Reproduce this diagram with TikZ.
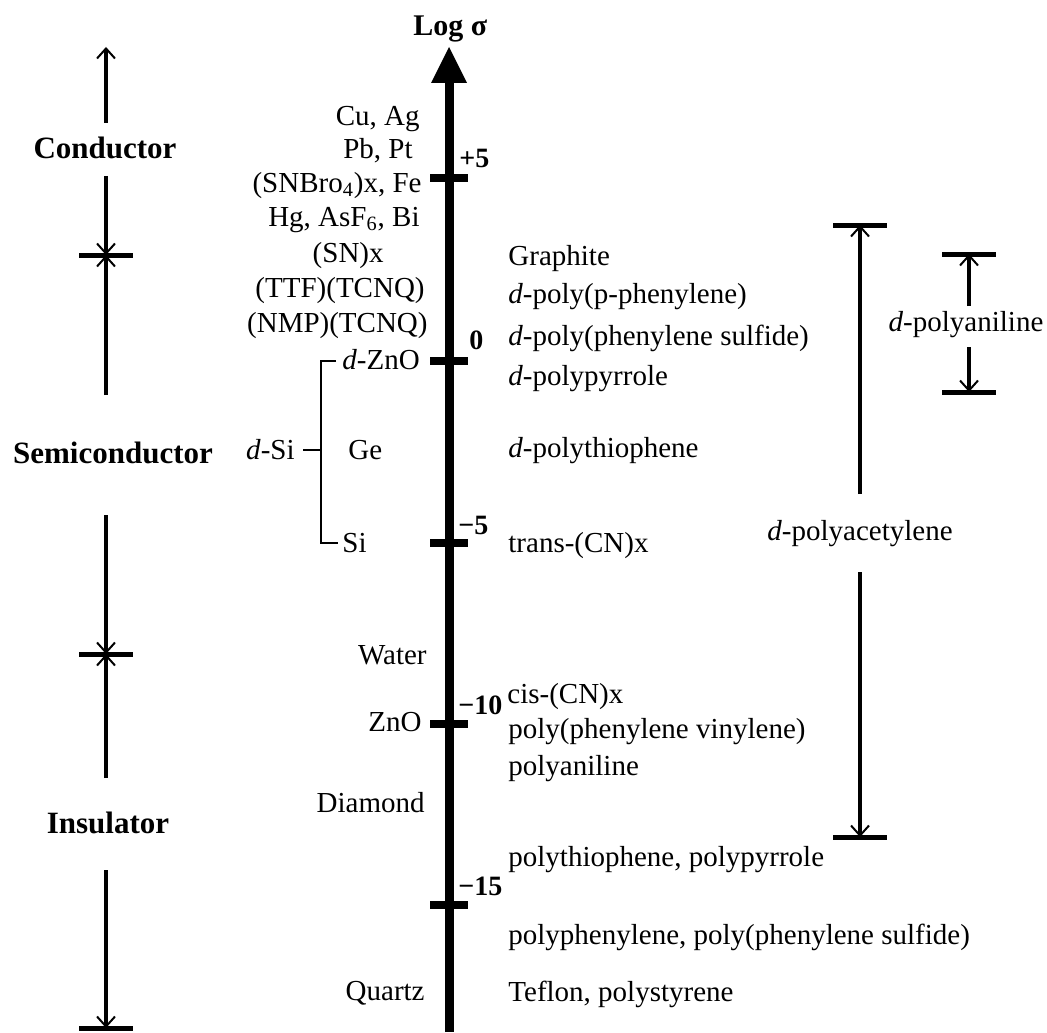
\documentclass[tikz,border=0pt]{standalone}
\usepackage{fontspec}
\setmainfont{Liberation Serif}
\usetikzlibrary{arrows.meta}
\begin{document}
\begin{tikzpicture}[x=0.5pt,y=-0.5pt,
  txt/.style={inner sep=0pt, font=\fontsize{14.5pt}{17pt}\selectfont},
  lbl/.style={inner sep=0pt, font=\fontsize{15.5pt}{18pt}\selectfont\bfseries},
  tlbl/.style={inner sep=0pt, font=\fontsize{14pt}{17pt}\selectfont\bfseries},
  rng/.style={line width=2.25pt, -{Straight Barb[length=5pt,width=9pt,line width=1pt]}},
  endbar/.style={line width=2.5pt},
  axtick/.style={line width=4pt},
  brk/.style={line width=1pt}]
\useasboundingbox (0,0) rectangle (1047,1032);

% ---- main axis ----
\coordinate (axbot) at (449,1032);
\coordinate (axtop) at (449,80);
\draw[line width=4.5pt] (axbot) -- (axtop);
\fill (431,83) -- (449,47) -- (467,83) -- cycle;
\node[tlbl, anchor=base west, font=\fontsize{15pt}{18pt}\selectfont\bfseries] (logs) at (413,36) {Log σ};

% ticks
\foreach \n/\y in {t5/178, t0/361, tm5/543, tm10/724, tm15/905}{
  \coordinate (\n) at (449,\y);
  \draw[axtick] ([xshift=-9.5pt]\n) -- ([xshift=9.5pt]\n);
}
\node[tlbl, anchor=base west] (l5) at (459,168) {+5};
\node[tlbl, anchor=base west] (l0) at (469,349) {0};
\node[tlbl, anchor=base west] (lm5) at (458,534) {−5};
\node[tlbl, anchor=base west] (lm10) at (458,714) {−10};
\node[tlbl, anchor=base west] (lm15) at (458,895) {−15};

% ---- left materials ----
\node[txt, anchor=base east] (cuag) at (420,126) {Cu, Ag};
\node[txt, anchor=base east] (pbpt) at (413,159) {Pb, Pt};
\node[txt, anchor=base east] (snbr) at (422,192) {(SNBro\textsubscript{4})x, Fe};
\node[txt, anchor=base east] (hg) at (420,226) {Hg, AsF\textsubscript{6}, Bi};
\node[txt, anchor=base east] (sn) at (384,262) {(SN)x};
\node[txt, anchor=base east] (ttf) at (425,297) {(TTF)(TCNQ)};
\node[txt, anchor=base east] (nmp) at (428,332) {(NMP)(TCNQ)};
\node[txt, anchor=base west] (dzno) at (342,369) {\textit{d}-ZnO};
\node[txt, anchor=base west] (ge) at (348,459) {Ge};
\node[txt, anchor=base west] (si) at (342,552) {Si};
\node[txt, anchor=base east] (dsi) at (295,459) {\textit{d}-Si};
\node[txt, anchor=base east] (water) at (427,664) {Water};
\node[txt, anchor=base east] (zno) at (422,731) {ZnO};
\node[txt, anchor=base east] (diam) at (425,812) {Diamond};
\node[txt, anchor=base east] (quartz) at (425,1000) {Quartz};

% bracket
\coordinate (brtop) at (336,361);
\coordinate (brbot) at (338,543);
\coordinate (brmid) at (321,450);
\coordinate (brleft) at (303,450);
\draw[brk] (brtop) -- (321,361) -- (321,543) -- (brbot);
\draw[brk] (brleft) -- (brmid);

% ---- right materials ----
\node[txt, anchor=base west] (graph) at (508,265) {Graphite};
\node[txt, anchor=base west] (dppp) at (508,303) {\textit{d}-poly(p-phenylene)};
\node[txt, anchor=base west] (dpps) at (508,345) {\textit{d}-poly(phenylene sulfide)};
\node[txt, anchor=base west] (dppy) at (508,385) {\textit{d}-polypyrrole};
\node[txt, anchor=base west] (dpth) at (508,457) {\textit{d}-polythiophene};
\node[txt, anchor=base west] (trans) at (508,552) {trans-(CN)x};
\node[txt, anchor=base west] (cis) at (507,703) {cis-(CN)x};
\node[txt, anchor=base west] (ppv) at (508,738) {poly(phenylene vinylene)};
\node[txt, anchor=base west] (pani) at (508,775) {polyaniline};
\node[txt, anchor=base west] (pthpy) at (508,866) {polythiophene, polypyrrole};
\node[txt, anchor=base west] (pphps) at (508,944) {polyphenylene, poly(phenylene sulfide)};
\node[txt, anchor=base west] (tefl) at (508,1001) {Teflon, polystyrene};

% ---- left class ranges ----
\node[lbl, anchor=base] (cond) at (105,159) {Conductor};
\node[lbl, anchor=base] (semi) at (113,463) {Semiconductor};
\node[lbl, anchor=base] (insu) at (108,833) {Insulator};

\coordinate (ctop) at (106,47);
\coordinate (ca) at (106,123);
\coordinate (cb) at (106,176);
\coordinate (b1) at (106,255);
\coordinate (sa) at (106,395);
\coordinate (sb) at (106,515);
\coordinate (b2) at (106,654);
\coordinate (ia) at (106,778);
\coordinate (ib) at (106,870);
\coordinate (b3) at (106,1028);
\draw[rng] (ca) -- (ctop);
\draw[rng] (cb) -- (b1);
\draw[rng] (sa) -- (b1);
\draw[rng] (sb) -- (b2);
\draw[rng] (ia) -- (b2);
\draw[rng] (ib) -- (b3);
\foreach \b in {b1,b2,b3}{
  \draw[endbar] ([xshift=-13.5pt]\b) -- ([xshift=13.5pt]\b);
}

% ---- right ranges ----
\node[txt, anchor=base] (dpa) at (860,540) {\textit{d}-polyacetylene};
\coordinate (pa1) at (860,225);
\coordinate (pa2) at (860,837);
\coordinate (paa) at (860,494);
\coordinate (pab) at (860,572);
\draw[rng, line width=2pt] (paa) -- (pa1);
\draw[rng, line width=2pt] (pab) -- (pa2);
\draw[endbar] ([xshift=-13.5pt]pa1) -- ([xshift=13.5pt]pa1);
\draw[endbar] ([xshift=-13.5pt]pa2) -- ([xshift=13.5pt]pa2);

\node[txt, anchor=base] (dpan) at (966,331) {\textit{d}-polyaniline};
\coordinate (pn1) at (969,254);
\coordinate (pn2) at (969,392);
\coordinate (pna) at (969,306);
\coordinate (pnb) at (969,347);
\draw[rng, line width=2pt] (pna) -- (pn1);
\draw[rng, line width=2pt] (pnb) -- (pn2);
\draw[endbar] ([xshift=-13.5pt]pn1) -- ([xshift=13.5pt]pn1);
\draw[endbar] ([xshift=-13.5pt]pn2) -- ([xshift=13.5pt]pn2);
\end{tikzpicture}
\end{document}
